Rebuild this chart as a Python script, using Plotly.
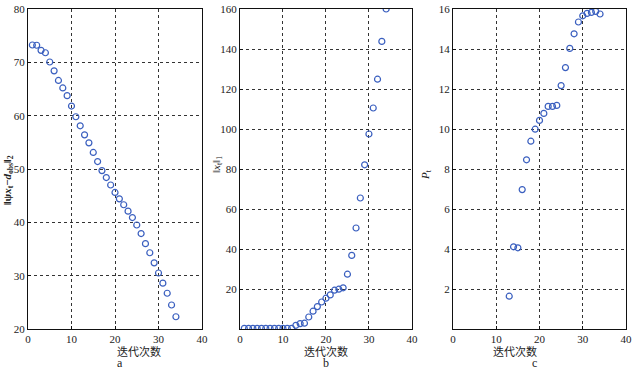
import plotly.graph_objects as go

# Panel a: residual norm vs iteration
a_x = list(range(1, 35))
a_y = [73.25, 73.2, 72.25, 71.8, 70.06, 68.4, 66.6, 65.2, 63.75, 61.8,
       59.8, 58.1, 56.4, 54.9, 53.1, 51.4, 49.7, 48.4, 47.0, 45.6,
       44.4, 43.3, 42.1, 40.9, 39.5, 37.9, 36.0, 34.3, 32.4, 30.5,
       28.6, 26.7, 24.5, 22.3]

# Panel b: L1 norm vs iteration
b_x = list(range(1, 35))
b_y = [0.3, 0.3, 0.3, 0.3, 0.3, 0.3, 0.3, 0.3, 0.3, 0.3, 0.3, 0.3,
       1.85, 2.7, 2.9, 6.0, 8.9, 11.2, 13.5, 15.4, 17.05, 19.4, 19.9, 20.6,
       27.4, 36.8, 50.5, 65.5, 82.1, 97.5, 110.5, 124.9, 143.8, 160.0]

# Panel c: P_t vs iteration
c_x = list(range(13, 35))
c_y = [1.64, 4.11, 4.06, 6.97, 8.46, 9.39, 9.99, 10.43, 10.78, 11.13, 11.13,
       11.18, 12.17, 13.07, 14.03, 14.76, 15.35, 15.66, 15.78, 15.83, 15.88, 15.75]

x_ticks = [0, 10, 20, 30, 40]
a_yticks = [20, 30, 40, 50, 60, 70, 80]
b_yticks = [20, 40, 60, 80, 100, 120, 140, 160]
c_yticks = [2, 4, 6, 8, 10, 12, 14, 16]

xlabel = "迭代次数"
sublabels = ["a", "b", "c"]
ytitles = ["<b>‖ψ<i>x</i><sub>t</sub>−<i>d</i><sub>obs</sub>‖<sub>2</sub></b>",
           "‖<i>x</i><sub>t</sub>‖<sub>1</sub>",
           "<i>P</i><sub>t</sub>"]

marker = dict(symbol="circle-open", size=6, color="#3a5fbf", line=dict(width=1.2, color="#3a5fbf"))

fig = go.Figure()
fig.add_trace(go.Scatter(x=a_x, y=a_y, mode="markers", marker=marker, xaxis="x", yaxis="y", showlegend=False))
fig.add_trace(go.Scatter(x=b_x, y=b_y, mode="markers", marker=marker, xaxis="x2", yaxis="y2", showlegend=False))
fig.add_trace(go.Scatter(x=c_x, y=c_y, mode="markers", marker=marker, xaxis="x3", yaxis="y3", showlegend=False))

tickfont = dict(family="Liberation Serif, Times New Roman, serif", size=11, color="#222")
common = dict(showline=True, linecolor="#111", linewidth=1, mirror=True,
              showgrid=True, gridcolor="#333", gridwidth=1, griddash="dot",
              ticks="inside", ticklen=3, tickcolor="#111", tickfont=tickfont,
              zeroline=False, automargin=False)

domains = [[0.0, 0.291], [0.3545, 0.642], [0.7107, 1.0]]
yranges = [[20, 80], [0, 160], [0, 16]]
yticks = [a_yticks, b_yticks, c_yticks]

layout = dict(
    width=633, height=370,
    margin=dict(l=28, r=7, t=9, b=41, autoexpand=False),
    paper_bgcolor="white", plot_bgcolor="white",
)
for i in range(3):
    sx = "" if i == 0 else str(i + 1)
    layout["xaxis" + sx] = dict(common, domain=domains[i], range=[0, 40], tickvals=x_ticks,
                                anchor="y" + sx)
    layout["yaxis" + sx] = dict(common, domain=[0, 1], range=yranges[i], tickvals=yticks[i],
                                anchor="x" + sx)
fig.update_layout(**layout)

ann = []
xcenters = [(d[0] + d[1]) / 2 for d in domains]
ytitle_x = [8, 217, 426]
ytitle_y = [180, 165, 175]
for i in range(3):
    ann.append(dict(xref="paper", yref="paper", x=xcenters[i], y=(329 - 350.5) / 320.0, yanchor="middle",
                    text=xlabel, showarrow=False,
                    font=dict(family="Noto Sans CJK SC", size=11, color="#222")))
    ann.append(dict(xref="paper", yref="paper", x=xcenters[i], y=(329 - 363) / 320.0, yanchor="middle",
                    text=sublabels[i], showarrow=False,
                    font=dict(family="Liberation Serif", size=12, color="#222")))
    px = (ytitle_x[i] - 28) / 598.0
    py = (329 - ytitle_y[i]) / 320.0
    ann.append(dict(xref="paper", yref="paper", x=px, y=py, xanchor="center", yanchor="middle",
                    text=ytitles[i], showarrow=False, textangle=-90,
                    font=dict(family="Liberation Serif", size=11, color="#222")))
fig.update_layout(annotations=ann)

fig.write_html("out.html", config={"displayModeBar": False},
               post_script="document.body.style.margin='0';document.body.style.overflow='hidden';")
